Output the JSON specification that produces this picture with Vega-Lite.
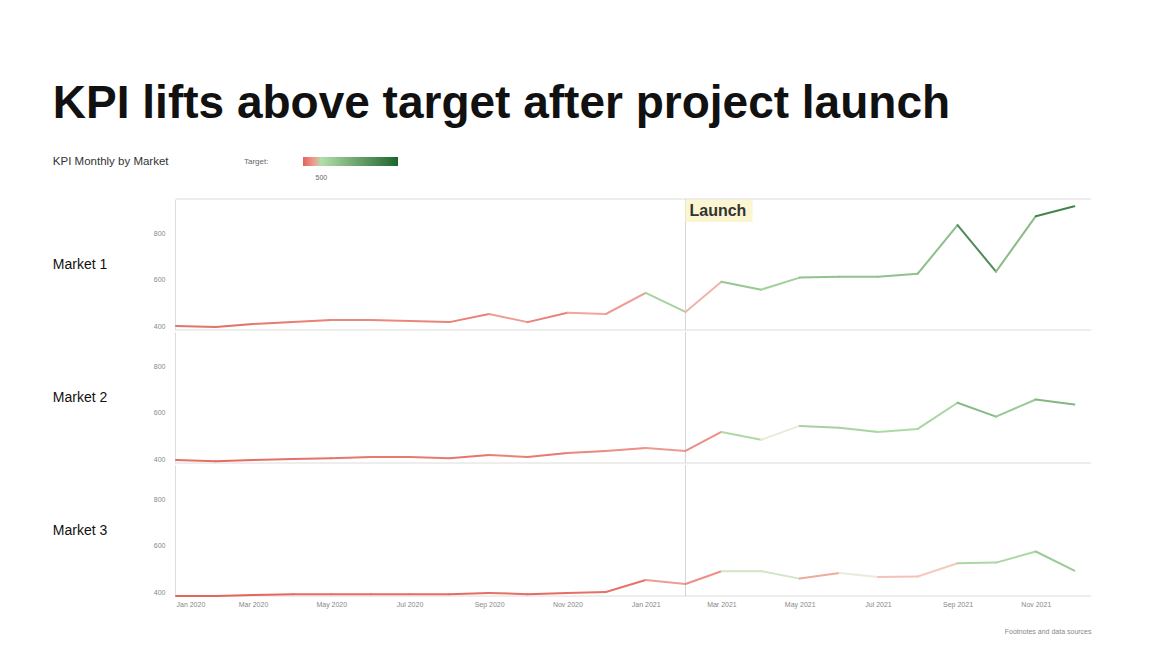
{
  "$schema": "https://vega.github.io/schema/vega-lite/v6.json",
  "background": "white",
  "padding": {"left": 52, "top": 80, "right": 20, "bottom": 4},
  "title": {
    "text": "KPI lifts above target after project launch",
    "subtitle": "KPI Monthly by Market",
    "anchor": "start",
    "font": "Liberation Sans",
    "fontSize": 46,
    "fontWeight": "bold",
    "color": "#111111",
    "subtitleFont": "Liberation Sans",
    "subtitleFontSize": 11.5,
    "subtitleColor": "#333333",
    "subtitlePadding": 28,
    "offset": -11
  },
  "data": {
    "values": [
      {"market": "Market 1", "month": "2020-01-01", "kpi": 400},
      {"market": "Market 1", "month": "2020-02-01", "kpi": 396},
      {"market": "Market 1", "month": "2020-03-01", "kpi": 409},
      {"market": "Market 1", "month": "2020-04-01", "kpi": 417},
      {"market": "Market 1", "month": "2020-05-01", "kpi": 426},
      {"market": "Market 1", "month": "2020-06-01", "kpi": 426},
      {"market": "Market 1", "month": "2020-07-01", "kpi": 422},
      {"market": "Market 1", "month": "2020-08-01", "kpi": 417},
      {"market": "Market 1", "month": "2020-09-01", "kpi": 452},
      {"market": "Market 1", "month": "2020-10-01", "kpi": 417},
      {"market": "Market 1", "month": "2020-11-01", "kpi": 457},
      {"market": "Market 1", "month": "2020-12-01", "kpi": 452},
      {"market": "Market 1", "month": "2021-01-01", "kpi": 543},
      {"market": "Market 1", "month": "2021-02-01", "kpi": 461},
      {"market": "Market 1", "month": "2021-03-01", "kpi": 591},
      {"market": "Market 1", "month": "2021-04-01", "kpi": 557},
      {"market": "Market 1", "month": "2021-05-01", "kpi": 609},
      {"market": "Market 1", "month": "2021-06-01", "kpi": 613},
      {"market": "Market 1", "month": "2021-07-01", "kpi": 613},
      {"market": "Market 1", "month": "2021-08-01", "kpi": 626},
      {"market": "Market 1", "month": "2021-09-01", "kpi": 835},
      {"market": "Market 1", "month": "2021-10-01", "kpi": 635},
      {"market": "Market 1", "month": "2021-11-01", "kpi": 874},
      {"market": "Market 1", "month": "2021-12-01", "kpi": 917},
      {"market": "Market 2", "month": "2020-01-01", "kpi": 396},
      {"market": "Market 2", "month": "2020-02-01", "kpi": 391},
      {"market": "Market 2", "month": "2020-03-01", "kpi": 396},
      {"market": "Market 2", "month": "2020-04-01", "kpi": 400},
      {"market": "Market 2", "month": "2020-05-01", "kpi": 404},
      {"market": "Market 2", "month": "2020-06-01", "kpi": 409},
      {"market": "Market 2", "month": "2020-07-01", "kpi": 409},
      {"market": "Market 2", "month": "2020-08-01", "kpi": 404},
      {"market": "Market 2", "month": "2020-09-01", "kpi": 417},
      {"market": "Market 2", "month": "2020-10-01", "kpi": 409},
      {"market": "Market 2", "month": "2020-11-01", "kpi": 426},
      {"market": "Market 2", "month": "2020-12-01", "kpi": 435},
      {"market": "Market 2", "month": "2021-01-01", "kpi": 448},
      {"market": "Market 2", "month": "2021-02-01", "kpi": 435},
      {"market": "Market 2", "month": "2021-03-01", "kpi": 517},
      {"market": "Market 2", "month": "2021-04-01", "kpi": 483},
      {"market": "Market 2", "month": "2021-05-01", "kpi": 543},
      {"market": "Market 2", "month": "2021-06-01", "kpi": 535},
      {"market": "Market 2", "month": "2021-07-01", "kpi": 517},
      {"market": "Market 2", "month": "2021-08-01", "kpi": 530},
      {"market": "Market 2", "month": "2021-09-01", "kpi": 643},
      {"market": "Market 2", "month": "2021-10-01", "kpi": 583},
      {"market": "Market 2", "month": "2021-11-01", "kpi": 657},
      {"market": "Market 2", "month": "2021-12-01", "kpi": 635},
      {"market": "Market 3", "month": "2020-01-01", "kpi": 383},
      {"market": "Market 3", "month": "2020-02-01", "kpi": 383},
      {"market": "Market 3", "month": "2020-03-01", "kpi": 387},
      {"market": "Market 3", "month": "2020-04-01", "kpi": 391},
      {"market": "Market 3", "month": "2020-05-01", "kpi": 391},
      {"market": "Market 3", "month": "2020-06-01", "kpi": 391},
      {"market": "Market 3", "month": "2020-07-01", "kpi": 391},
      {"market": "Market 3", "month": "2020-08-01", "kpi": 391},
      {"market": "Market 3", "month": "2020-09-01", "kpi": 396},
      {"market": "Market 3", "month": "2020-10-01", "kpi": 391},
      {"market": "Market 3", "month": "2020-11-01", "kpi": 396},
      {"market": "Market 3", "month": "2020-12-01", "kpi": 400},
      {"market": "Market 3", "month": "2021-01-01", "kpi": 452},
      {"market": "Market 3", "month": "2021-02-01", "kpi": 435},
      {"market": "Market 3", "month": "2021-03-01", "kpi": 490},
      {"market": "Market 3", "month": "2021-04-01", "kpi": 490},
      {"market": "Market 3", "month": "2021-05-01", "kpi": 458},
      {"market": "Market 3", "month": "2021-06-01", "kpi": 482},
      {"market": "Market 3", "month": "2021-07-01", "kpi": 465},
      {"market": "Market 3", "month": "2021-08-01", "kpi": 467},
      {"market": "Market 3", "month": "2021-09-01", "kpi": 524},
      {"market": "Market 3", "month": "2021-10-01", "kpi": 527},
      {"market": "Market 3", "month": "2021-11-01", "kpi": 575},
      {"market": "Market 3", "month": "2021-12-01", "kpi": 492}
    ]
  },
  "transform": [
    {
      "window": [
        {"op": "lead", "field": "kpi", "as": "next_kpi"},
        {"op": "lead", "field": "month", "as": "next_month"}
      ],
      "groupby": ["market"],
      "sort": [{"field": "month", "order": "ascending"}]
    }
  ],
  "facet": {
    "row": {
      "field": "market",
      "type": "nominal",
      "header": {
        "title": null,
        "labelAngle": 0,
        "labelOrient": "left",
        "labelAlign": "left",
        "labelBaseline": "middle",
        "labelFont": "Liberation Sans",
        "labelFontSize": 14,
        "labelColor": "#111111",
        "labelPadding": 46
      }
    }
  },
  "spacing": 0,
  "spec": {
    "width": 915,
    "height": 131,
    "layer": [
      {
        "transform": [{"filter": "datum.next_kpi == null"}],
        "mark": {"type": "rule", "color": "#dcdcdc", "strokeWidth": 1},
        "encoding": {"y": {"datum": 383}}
      },
      {
        "transform": [{"filter": "datum.next_kpi == null && datum.market == 'Market 1'"}],
        "mark": {"type": "rule", "color": "#dcdcdc", "strokeWidth": 1},
        "encoding": {"y": {"datum": 948}}
      },
      {
        "transform": [{"filter": "datum.next_kpi == null"}],
        "mark": {"type": "rule", "color": "#d4d4d4", "strokeWidth": 1},
        "encoding": {"x": {"datum": {"year": 2021, "month": 2, "date": 1, "utc": true}}}
      },
      {
        "transform": [{"filter": "datum.next_kpi != null"}],
        "mark": {"type": "rule", "strokeWidth": 2, "strokeCap": "round"},
        "encoding": {
          "x": {
            "field": "month",
            "type": "temporal",
            "scale": {
              "type": "utc",
              "domain": [
                {"year": 2020, "month": 1, "date": 1, "utc": true},
                {"year": 2021, "month": 12, "date": 14, "utc": true}
              ]
            },
            "axis": {
              "format": "%b %Y",
              "tickCount": {"interval": "month", "step": 2},
              "labelFont": "Liberation Sans",
              "labelFontSize": 7,
              "labelColor": "#888888",
              "ticks": false,
              "grid": false,
              "domain": false,
              "labelFlush": true,
              "labelPadding": 3,
              "title": "Footnotes and data sources",
              "titleAnchor": "end",
              "titleFont": "Liberation Sans",
              "titleFontSize": 7,
              "titleFontWeight": "normal",
              "titleColor": "#888888",
              "titlePadding": 20
            }
          },
          "x2": {"field": "next_month"},
          "y": {
            "field": "kpi",
            "type": "quantitative",
            "scale": {"domain": [383, 948], "nice": false, "zero": false},
            "axis": {
              "values": [400, 600, 800],
              "title": null,
              "labelFont": "Liberation Sans",
              "labelFontSize": 7,
              "labelColor": "#888888",
              "ticks": false,
              "grid": false,
              "domain": true,
              "domainColor": "#dddddd",
              "labelPadding": 10
            }
          },
          "y2": {"field": "next_kpi"},
          "color": {
            "field": "kpi",
            "type": "quantitative",
            "scale": {
              "domain": [380, 455, 478, 500, 1000],
              "range": ["#e2625a", "#ee9f96", "#f6efe6", "#b2deaa", "#19662f"],
              "interpolate": "lab"
            },
            "legend": {
              "title": "Target:",
              "orient": "none",
              "legendX": 68,
              "legendY": -42,
              "direction": "horizontal",
              "titleOrient": "left",
              "titlePadding": 34,
              "gradientLength": 95,
              "gradientThickness": 9,
              "values": [500],
              "labelOffset": 8,
              "labelFont": "Liberation Sans",
              "labelFontSize": 7,
              "labelColor": "#666666",
              "titleFont": "Liberation Sans",
              "titleFontSize": 8,
              "titleFontWeight": "normal",
              "titleColor": "#666666"
            }
          }
        }
      },
      {
        "transform": [{"filter": "datum.next_kpi == null && datum.market == 'Market 1'"}],
        "mark": {"type": "rect", "color": "#fbf6cf", "x2Offset": 67, "yOffset": 1, "y2Offset": 23},
        "encoding": {
          "x": {"datum": {"year": 2021, "month": 2, "date": 1, "utc": true}},
          "x2": {"datum": {"year": 2021, "month": 2, "date": 1, "utc": true}},
          "y": {"datum": 948},
          "y2": {"datum": 948}
        }
      },
      {
        "transform": [{"filter": "datum.next_kpi == null && datum.market == 'Market 1'"}],
        "mark": {"type": "text", "align": "left", "baseline": "top", "dx": 4, "dy": 4, "font": "Liberation Sans", "fontSize": 16, "fontWeight": "bold", "color": "#333333"},
        "encoding": {
          "x": {"datum": {"year": 2021, "month": 2, "date": 1, "utc": true}},
          "y": {"datum": 948},
          "text": {"value": "Launch"}
        }
      }
    ]
  },
  "config": {
    "view": {"stroke": null},
    "font": "Liberation Sans"
  }
}
